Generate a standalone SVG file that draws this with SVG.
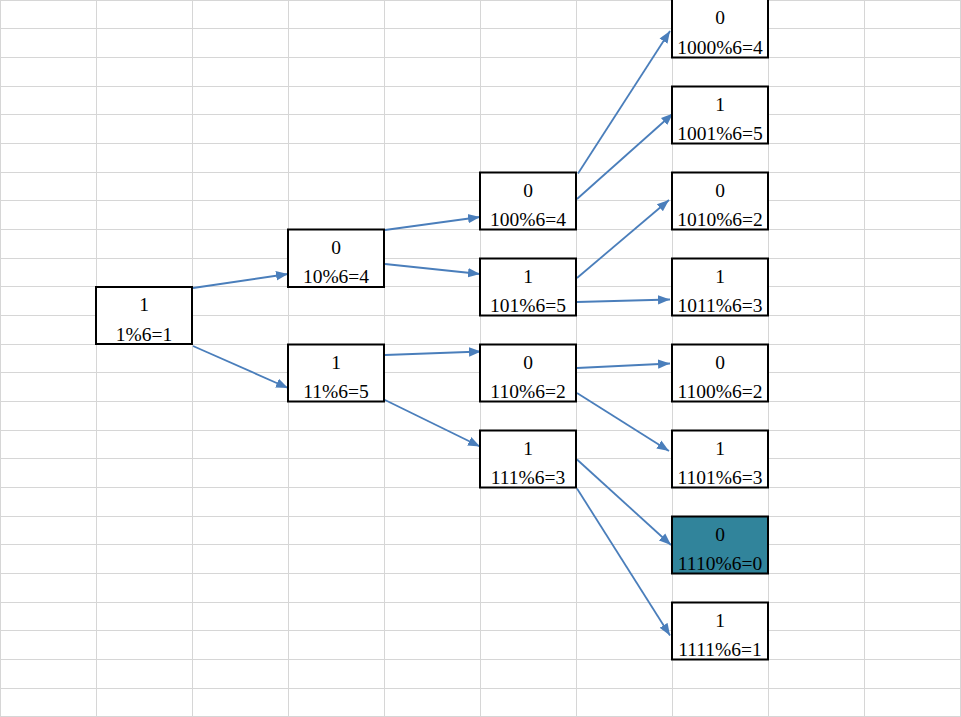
<svg xmlns="http://www.w3.org/2000/svg" width="961" height="717" viewBox="0 0 961 717">
<defs>
<style>
.grid{stroke:#d6d6d6;stroke-width:1;fill:none}
.box{fill:#fff;stroke:#000;stroke-width:2}
.hl{fill:#31849b}
.t{font-family:"Liberation Serif","Times New Roman",serif;font-size:19.5px;fill:#000;text-anchor:middle}
.c{stroke:#4a7ebb;stroke-width:1.8;fill:none;marker-end:url(#ah)}
</style>
<marker id="ah" markerUnits="userSpaceOnUse" markerWidth="13" markerHeight="11" viewBox="0 0 13 11" refX="12" refY="5.5" orient="auto">
<path d="M0,0.8 L12,5.5 L0,10.2 z" fill="#4a7ebb"/>
</marker>
</defs>
<rect width="961" height="717" fill="#fff"/>
<path class="grid" d="M0.5,0V717M96.5,0V717M192.5,0V717M288.5,0V717M384.5,0V717M480.5,0V717M576.5,0V717M672.5,0V717M768.5,0V717M864.5,0V717M960.5,0V717
M0,0.5H961M0,28.5H961M0,57.5H961M0,86.5H961M0,114.5H961M0,143.5H961M0,172.5H961M0,200.5H961M0,229.5H961M0,258.5H961M0,286.5H961M0,315.5H961M0,344.5H961M0,372.5H961M0,401.5H961M0,430.5H961M0,458.5H961M0,487.5H961M0,516.5H961M0,544.5H961M0,573.5H961M0,602.5H961M0,630.5H961M0,659.5H961M0,688.5H961M0,716.5H961"/>
<g id="connectors">
<line class="c" x1="193" y1="288" x2="288" y2="274"/>
<line class="c" x1="193" y1="346" x2="288" y2="388"/>
<line class="c" x1="385" y1="230" x2="480" y2="217"/>
<line class="c" x1="385" y1="264" x2="480" y2="274"/>
<line class="c" x1="385" y1="355" x2="481" y2="351.5"/>
<line class="c" x1="384" y1="399.5" x2="480" y2="446.5"/>
<line class="c" x1="578" y1="173.5" x2="670" y2="31"/>
<line class="c" x1="577" y1="199" x2="673" y2="113.5"/>
<line class="c" x1="577" y1="278" x2="669" y2="200"/>
<line class="c" x1="577" y1="302" x2="670" y2="299.5"/>
<line class="c" x1="577" y1="368" x2="670" y2="363.5"/>
<line class="c" x1="577" y1="393" x2="669" y2="451"/>
<line class="c" x1="577" y1="459.5" x2="671" y2="545"/>
<line class="c" x1="577" y1="488.5" x2="670" y2="635.5"/>
</g>
<g id="n1"><rect class="box" x="96" y="287" width="96" height="57"/><text class="t" x="144" y="311">1</text><text class="t" x="144" y="340.5">1%6=1</text></g>
<g id="n10"><rect class="box" x="288" y="229.5" width="96" height="57.5"/><text class="t" x="336" y="254">0</text><text class="t" x="336" y="283">10%6=4</text></g>
<g id="n11"><rect class="box" x="288" y="344.5" width="96" height="57"/><text class="t" x="336" y="369">1</text><text class="t" x="336" y="398">11%6=5</text></g>
<g id="n100"><rect class="box" x="480" y="172.5" width="96" height="57"/><text class="t" x="528" y="197">0</text><text class="t" x="528" y="226">100%6=4</text></g>
<g id="n101"><rect class="box" x="480" y="258.5" width="96" height="57"/><text class="t" x="528" y="283">1</text><text class="t" x="528" y="312">101%6=5</text></g>
<g id="n110"><rect class="box" x="480" y="344.5" width="96" height="57"/><text class="t" x="528" y="369">0</text><text class="t" x="528" y="398">110%6=2</text></g>
<g id="n111"><rect class="box" x="480" y="430.5" width="96" height="57"/><text class="t" x="528" y="455">1</text><text class="t" x="528" y="484">111%6=3</text></g>
<g id="n1000"><rect class="box" x="672" y="-3" width="96" height="60.5"/><text class="t" x="720" y="24">0</text><text class="t" x="720" y="53.5">1000%6=4</text></g>
<g id="n1001"><rect class="box" x="672" y="86.5" width="96" height="57"/><text class="t" x="720" y="111">1</text><text class="t" x="720" y="140">1001%6=5</text></g>
<g id="n1010"><rect class="box" x="672" y="172.5" width="96" height="57"/><text class="t" x="720" y="197">0</text><text class="t" x="720" y="226">1010%6=2</text></g>
<g id="n1011"><rect class="box" x="672" y="258.5" width="96" height="57"/><text class="t" x="720" y="283">1</text><text class="t" x="720" y="312">1011%6=3</text></g>
<g id="n1100"><rect class="box" x="672" y="344.5" width="96" height="57"/><text class="t" x="720" y="369">0</text><text class="t" x="720" y="398">1100%6=2</text></g>
<g id="n1101"><rect class="box" x="672" y="430.5" width="96" height="57"/><text class="t" x="720" y="455">1</text><text class="t" x="720" y="484">1101%6=3</text></g>
<g id="n1110"><rect class="box hl" x="672" y="516.5" width="96" height="57"/><text class="t" x="720" y="541">0</text><text class="t" x="720" y="570">1110%6=0</text></g>
<g id="n1111"><rect class="box" x="672" y="602.5" width="96" height="57"/><text class="t" x="720" y="627">1</text><text class="t" x="720" y="656">1111%6=1</text></g>
</svg>
